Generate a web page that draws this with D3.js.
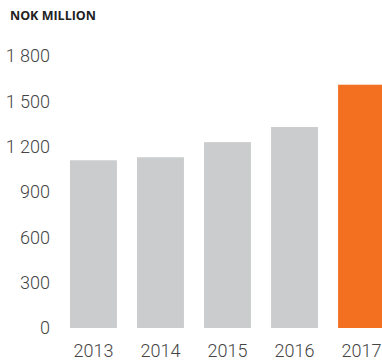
<!DOCTYPE html>
<html lang="en">
	<head>
		<meta charset="utf-8">
		<title>NOK million bar chart</title>
		<script src="https://d3js.org/d3.v7.min.js"></script>
		<style type="text/css">
			body { margin: 0; background: #fff; }
			text {
				font-family: Roboto, sans-serif;
				font-weight: 300;
				font-size: 18px;
				fill: #444;
			}
			.title {
				font-family: "Open Sans", sans-serif;
				font-weight: 700;
				font-size: 12.5px;
				fill: #222;
			}
		</style>
	</head>
	<body>
		<svg id="chart" width="382" height="361"></svg>

		<script type="text/javascript">

			var years = ["2013", "2014", "2015", "2016", "2017"];
			var values = [1110, 1130, 1230, 1330, 1610];
			var yTicks = [0, 300, 600, 900, 1200, 1500, 1800];

			var svg = d3.select("#chart");

			var x = d3.scaleBand()
						.domain(years)
						.range([70, 385])
						.paddingInner(0.3)
						.paddingOuter(0);

			var y = d3.scaleLinear()
						.domain([0, 1800])
						.range([328, 56]);

			var fmt = function(d) {
				return d3.format(",")(d).replace(",", " ");
			};

			// title
			svg.append("text")
				.attr("class", "title")
				.attr("x", 10)
				.attr("y", 20)
				.text("NOK MILLION");

			// bars
			svg.selectAll("rect.bar")
				.data(values)
				.enter()
				.append("rect")
				.attr("class", "bar")
				.attr("x", function(d, i) { return x(years[i]); })
				.attr("width", x.bandwidth())
				.attr("y", function(d) { return y(d); })
				.attr("height", function(d) { return y(0) - y(d); })
				.attr("fill", function(d, i) {
					return i === years.length - 1 ? "#f37021" : "#cbcccd";
				});

			// y labels
			svg.selectAll("text.ylab")
				.data(yTicks)
				.enter()
				.append("text")
				.attr("class", "ylab")
				.attr("x", 50)
				.attr("y", function(d) { return y(d); })
				.attr("dy", "0.35em")
				.attr("text-anchor", "end")
				.text(fmt);

			// x labels
			svg.selectAll("text.xlab")
				.data(years)
				.enter()
				.append("text")
				.attr("class", "xlab")
				.attr("x", function(d) { return x(d) + x.bandwidth() / 2; })
				.attr("y", 357)
				.attr("text-anchor", "middle")
				.text(function(d) { return d; });

		</script>
	</body>
</html>
